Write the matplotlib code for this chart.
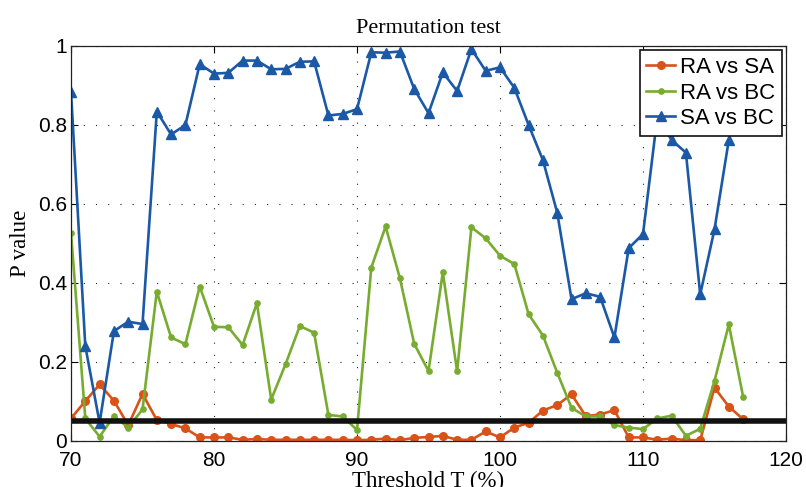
import matplotlib
matplotlib.use("Agg")
import matplotlib.pyplot as plt
from matplotlib.ticker import FuncFormatter

# threshold values (%)
thresholds = list(range(70, 118))

# p values
ra_vs_sa = [0.057, 0.101, 0.143, 0.102, 0.040, 0.119, 0.053, 0.043, 0.032, 0.009,
            0.009, 0.009, 0.003, 0.005, 0.003, 0.003, 0.003, 0.003, 0.003, 0.003,
            0.002, 0.003, 0.006, 0.002, 0.008, 0.010, 0.013, 0.003, 0.003, 0.024,
            0.009, 0.034, 0.046, 0.077, 0.091, 0.118, 0.063, 0.067, 0.078, 0.009,
            0.009, 0.003, 0.006, 0.002, 0.002, 0.135, 0.087, 0.055]
ra_vs_bc = [0.527, 0.057, 0.011, 0.063, 0.034, 0.080, 0.378, 0.262, 0.245, 0.391,
            0.289, 0.288, 0.243, 0.349, 0.105, 0.194, 0.291, 0.274, 0.066, 0.062,
            0.028, 0.439, 0.543, 0.412, 0.246, 0.177, 0.427, 0.176, 0.541, 0.513,
            0.469, 0.448, 0.321, 0.267, 0.173, 0.084, 0.062, 0.062, 0.040, 0.034,
            0.030, 0.057, 0.064, 0.013, 0.031, 0.152, 0.295, 0.112]
sa_vs_bc = [0.884, 0.240, 0.046, 0.278, 0.302, 0.296, 0.834, 0.776, 0.800, 0.954,
            0.930, 0.932, 0.963, 0.963, 0.941, 0.942, 0.960, 0.961, 0.824, 0.828,
            0.840, 0.984, 0.983, 0.986, 0.891, 0.830, 0.933, 0.886, 0.992, 0.937,
            0.946, 0.894, 0.800, 0.711, 0.578, 0.359, 0.374, 0.365, 0.262, 0.488,
            0.524, 0.820, 0.762, 0.730, 0.371, 0.536, 0.762, 0.900]
alpha_level = 0.05

serif = ['Liberation Serif', 'DejaVu Serif']
sans = ['Liberation Sans', 'DejaVu Sans']
plt.rcParams['font.family'] = sans

fig = plt.figure(figsize=(8.06, 4.87), dpi=100)
ax = fig.add_axes([0.0881, 0.0945, 0.8871, 0.8111])

ax.plot(thresholds, ra_vs_sa, color='#D95319', lw=1.9, marker='o', ms=5.5, label='RA vs SA')
ax.plot(thresholds, ra_vs_bc, color='#77AC30', lw=1.9, marker='o', ms=3.8, label='RA vs BC')
ax.plot(thresholds, sa_vs_bc, color='#1B59A6', lw=1.9, marker='^', ms=7, label='SA vs BC')
ax.axhline(alpha_level, color='#111111', lw=4)

ax.set_xlim(70, 120)
ax.set_ylim(0, 1)
ax.set_xticks(range(70, 121, 10))
ax.set_yticks([0, 0.2, 0.4, 0.6, 0.8, 1.0])
ax.yaxis.set_major_formatter(FuncFormatter(lambda v, p: '%g' % v))
ax.tick_params(direction='in', top=True, right=True, length=5, width=0.8, labelsize=15)
ax.tick_params(axis='x', pad=7)
ax.tick_params(axis='y', pad=3)
ax.grid(True, color='#222222', lw=0.8, linestyle=(0, (1, 10)))
for s in ax.spines.values():
    s.set_linewidth(0.9)
    s.set_color('#222222')

ax.set_title('Permutation test', fontsize=16, family=serif, pad=9)
ax.set_xlabel('Threshold T (%)', fontsize=16.5, family=serif, labelpad=1)
ax.set_ylabel('P value', fontsize=16.5, family=serif, labelpad=5)

leg = ax.legend(loc='upper right', fontsize=16, fancybox=False, framealpha=1,
                edgecolor='#111111', handlelength=1.3, handletextpad=0.2,
                labelspacing=0.2, borderpad=0.3, borderaxespad=0.2)
leg.get_frame().set_linewidth(1.2)

plt.savefig('out.png', dpi=100)
